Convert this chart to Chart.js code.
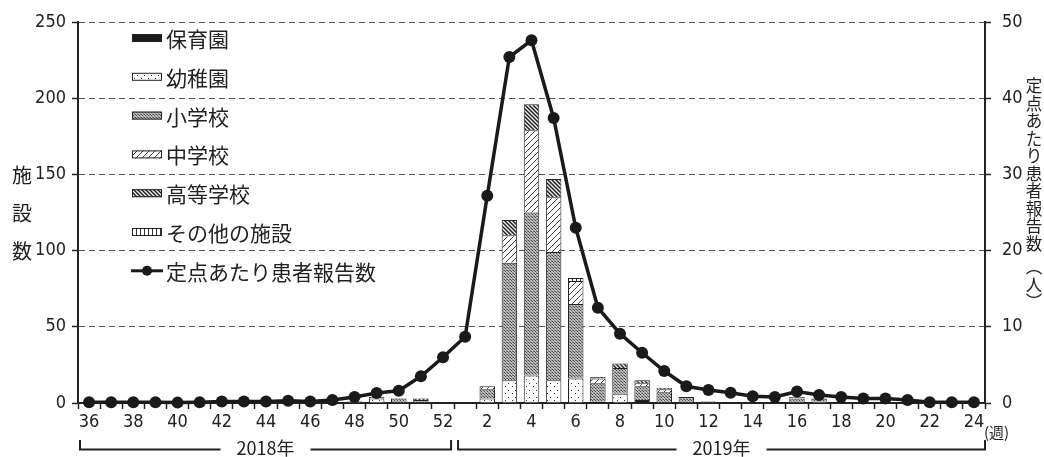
<!DOCTYPE html>
<html lang="ja">
<head>
<meta charset="utf-8">
<title>施設別インフルエンザ様疾患発生状況</title>
<script src="https://cdn.jsdelivr.net/npm/chart.js@4.4.1/dist/chart.umd.min.js"></script>
<style>
  html, body { margin: 0; padding: 0; background: #fff; }
  #wrap { width: 1044px; height: 457px; }
</style>
</head>
<body>
<div id="wrap"><canvas id="grafico" width="1044" height="457"></canvas></div>
<script>
// 週（2018年36週〜2019年24週）
const weeks = ['36','37','38','39','40','41','42','43','44','45','46','47','48','49','50','51','52',
               '1','2','3','4','5','6','7','8','9','10','11','12','13','14','15','16','17','18','19','20','21','22','23','24'];

// 施設数（左軸）
const hoikuen = [0,0,0,0,0,0,0,0,0,0,0,0,0,0,0,0,0,
                 0,0,0,0,0,0,1,0,2,0,0,0,0,0,0,0,0,0,0,0,0,0,0,0];
const youchien = [0,0,0,0,0,0,0,0,0,0,0,0,0,3,0,0,0,
                  0,3,15,18,15,16,0,6,0,0,0,0,0,0,0,0,1,0,0,0,0,0,0,0];
const shougakkou = [0,0,0,0,0,0,0,0,0,0,0,0,1,0,3,2,0,
                    0,6,77,107,84,49,12,17,9,7,4,1,0,0,0,3,2,0,0,0,0,0,0,0];
const chuugakkou = [0,0,0,0,0,0,0,0,0,0,0,0,0,1,0,0,0,
                    0,2,18,54,36,15,3,0,2,2,0,0,0,0,0,1,0,0,0,0,0,0,0,0];
const koutougakkou = [0,0,0,0,0,0,0,0,0,0,0,0,0,0,0,1,0,
                      0,0,10,17,12,0,1,3,2,1,0,0,0,0,0,0,0,0,0,0,0,0,0,0];
const sonota = [0,0,0,0,0,0,0,0,0,0,0,0,0,0,0,0,0,
                0,0,0,0,0,2,0,0,0,0,0,0,0,0,0,0,0,0,0,0,0,0,0,0];

// 定点あたり患者報告数（右軸）
const teiten = [0.1,0.1,0.1,0.1,0.05,0.1,0.2,0.2,0.2,0.3,0.2,0.4,0.8,1.3,1.6,3.5,6.0,
                8.7,27.2,45.4,47.6,37.4,23.0,12.5,9.1,6.6,4.2,2.2,1.7,1.35,0.9,0.8,1.5,1.05,0.8,0.6,0.6,0.4,0.1,0.1,0.1];

const yTicksLeft = [0, 50, 100, 150, 200, 250];
const yTicksRight = [0, 10, 20, 30, 40, 50];

const NUM_FONT = "'Liberation Sans Narrow', 'DejaVu Sans Condensed', 'Noto Sans', sans-serif";
const JP_FONT = "'Noto Sans CJK JP', 'Noto Sans', sans-serif";
const INK = '#222';

// パターン
function pattern(size, draw) {
    const c = document.createElement('canvas');
    c.width = size;
    c.height = size;
    const g = c.getContext('2d');
    draw(g, size);
    return g.createPattern(c, 'repeat');
}

const pDots = pattern(7, (g, s) => {
    g.fillStyle = '#fff'; g.fillRect(0, 0, s, s);
    g.fillStyle = '#333'; g.fillRect(1, 1, 1, 1); g.fillRect(4, 5, 1, 1);
});
const pGray = pattern(3, (g, s) => {
    g.fillStyle = '#bdbdbd'; g.fillRect(0, 0, s, s);
    g.fillStyle = '#4a4a4a'; g.fillRect(0, 0, 1, 1); g.fillRect(1, 1, 1, 1);
    g.fillStyle = '#8a8a8a'; g.fillRect(2, 2, 1, 1); g.fillRect(2, 0, 1, 1);
});
const pHatch = pattern(6, (g, s) => {
    g.fillStyle = '#fff'; g.fillRect(0, 0, s, s);
    g.strokeStyle = '#444'; g.lineWidth = 1;
    g.beginPath();
    g.moveTo(0, s); g.lineTo(s, 0);
    g.moveTo(-1, 1); g.lineTo(1, -1);
    g.moveTo(s - 1, s + 1); g.lineTo(s + 1, s - 1);
    g.stroke();
});
const pBack = pattern(4, (g, s) => {
    g.fillStyle = '#eee'; g.fillRect(0, 0, s, s);
    g.strokeStyle = '#222'; g.lineWidth = 1.5;
    g.beginPath();
    g.moveTo(0, 0); g.lineTo(s, s);
    g.moveTo(-1, s - 1); g.lineTo(1, s + 1);
    g.moveTo(s - 1, -1); g.lineTo(s + 1, 1);
    g.stroke();
});
const pVert = pattern(4, (g, s) => {
    g.fillStyle = '#fff'; g.fillRect(0, 0, s, s);
    g.fillStyle = '#333'; g.fillRect(0, 0, 1, s);
});

const series = [
    { label: '保育園', data: hoikuen, fill: '#1a1a1a' },
    { label: '幼稚園', data: youchien, fill: pDots },
    { label: '小学校', data: shougakkou, fill: pGray },
    { label: '中学校', data: chuugakkou, fill: pHatch },
    { label: '高等学校', data: koutougakkou, fill: pBack },
    { label: 'その他の施設', data: sonota, fill: pVert }
];
const lineLabel = '定点あたり患者報告数';

// 凡例・軸タイトル・年の括弧
const decor = {
    id: 'decor',
    afterDraw(chart) {
        const { ctx, chartArea: a, scales: { x } } = chart;
        ctx.save();

        // 凡例
        const step = 38.8;
        ctx.font = '21px ' + JP_FONT;
        ctx.textBaseline = 'middle';
        ctx.textAlign = 'left';
        series.forEach((s, i) => {
            const y = a.top + 16 + i * step;
            ctx.fillStyle = s.fill;
            ctx.fillRect(132, y - 4, 30, 8);
            ctx.strokeStyle = INK;
            ctx.lineWidth = 1;
            ctx.strokeRect(132.5, y - 3.5, 29, 7);
            ctx.fillStyle = INK;
            ctx.fillText(s.label, 166, y + 1);
        });
        const ly = a.top + 16 + series.length * step;
        ctx.strokeStyle = '#1a1a1a';
        ctx.lineWidth = 3;
        ctx.beginPath();
        ctx.moveTo(131, ly); ctx.lineTo(163, ly);
        ctx.stroke();
        ctx.fillStyle = '#1a1a1a';
        ctx.beginPath();
        ctx.arc(147, ly, 5, 0, Math.PI * 2);
        ctx.fill();
        ctx.fillStyle = INK;
        ctx.fillText(lineLabel, 166, ly + 1);

        // 左軸タイトル
        ctx.textAlign = 'center';
        ctx.font = '20px ' + JP_FONT;
        ['施', '設', '数'].forEach((ch, i) => ctx.fillText(ch, 22, 175 + i * 38));

        // 右軸タイトル
        ctx.font = '16.5px ' + JP_FONT;
        const rt = ['定', '点', 'あ', 'た', 'り', '患', '者', '報', '告', '数'];
        rt.forEach((ch, i) => ctx.fillText(ch, 1034, 86 + i * 17.5));
        ['\uFE35', '人', '\uFE36'].forEach((ch, i) => ctx.fillText(ch, 1034, 267 + i * 17.5));

        // (週)
        ctx.font = '15px ' + JP_FONT;
        ctx.textAlign = 'left';
        ctx.fillText('(週)', 984, 432);

        // 年の括弧
        const half = (x.getPixelForValue(1) - x.getPixelForValue(0)) / 2;
        const split = x.getPixelForValue(16) + half;
        const by = 449.5, bt = 440;
        const years = [
            { text: '2018年', x1: a.left + 2, x2: split - 3 },
            { text: '2019年', x1: split + 4, x2: a.right }
        ];
        ctx.strokeStyle = INK;
        ctx.lineWidth = 2;
        ctx.font = '18px ' + JP_FONT;
        years.forEach(yr => {
            const mid = (yr.x1 + yr.x2) / 2;
            const w = ctx.measureText(yr.text).width;
            ctx.beginPath();
            ctx.moveTo(yr.x1, bt); ctx.lineTo(yr.x1, by); ctx.lineTo(mid - w / 2 - 16, by);
            ctx.moveTo(mid + w / 2 + 16, by); ctx.lineTo(yr.x2, by); ctx.lineTo(yr.x2, bt);
            ctx.stroke();
            ctx.textAlign = 'center';
            ctx.fillText(yr.text, mid, by - 1);
        });

        ctx.restore();
    }
};

new Chart(document.getElementById('grafico'), {
    type: 'bar',
    data: {
        labels: weeks,
        datasets: [
            {
                type: 'line',
                label: lineLabel,
                data: teiten,
                yAxisID: 'y1',
                order: 0,
                borderColor: '#1a1a1a',
                backgroundColor: '#1a1a1a',
                borderWidth: 3.5,
                pointRadius: 6,
                pointBackgroundColor: '#1a1a1a',
                pointBorderWidth: 0,
                tension: 0,
                clip: false
            }
        ].concat(series.map(s => ({
            label: s.label,
            data: s.data,
            yAxisID: 'y',
            order: 1,
            backgroundColor: s.fill,
            borderColor: INK,
            borderWidth: 1,
            categoryPercentage: 1,
            barPercentage: 0.7
        })))
    },
    plugins: [decor],
    options: {
        responsive: false,
        animation: false,
        devicePixelRatio: 1,
        layout: { padding: { top: 22, left: 0, right: 0, bottom: 0 } },
        plugins: { legend: { display: false }, tooltip: { enabled: false } },
        scales: {
            x: {
                stacked: true,
                offset: true,
                afterFit: s => { s.height = 54; },
                grid: { offset: true, drawOnChartArea: false, drawTicks: true, tickLength: 6, tickColor: INK, tickWidth: 1.5 },
                border: { color: INK, width: 2 },
                ticks: {
                    autoSkip: false,
                    maxRotation: 0,
                    padding: 3,
                    color: INK,
                    font: { family: NUM_FONT, size: 18 },
                    callback: (v, i) => (Number(weeks[i]) % 2 === 0 ? weeks[i] : '')
                }
            },
            y: {
                stacked: true,
                position: 'left',
                min: yTicksLeft[0],
                max: yTicksLeft[yTicksLeft.length - 1],
                afterFit: s => { s.width = 78; },
                afterBuildTicks: s => { s.ticks = yTicksLeft.map(v => ({ value: v })); },
                grid: { color: '#555', lineWidth: 1, tickLength: 6, tickColor: INK, tickWidth: 1.5 },
                border: { color: INK, width: 2, dash: [6, 4] },
                ticks: { padding: 6, color: INK, font: { family: NUM_FONT, size: 18 } }
            },
            y1: {
                position: 'right',
                min: yTicksRight[0],
                max: yTicksRight[yTicksRight.length - 1],
                afterFit: s => { s.width = 59; },
                afterBuildTicks: s => { s.ticks = yTicksRight.map(v => ({ value: v })); },
                grid: { drawOnChartArea: false, tickLength: 6, tickColor: INK, tickWidth: 1.5 },
                border: { color: INK, width: 2 },
                ticks: { padding: 11, color: INK, font: { family: NUM_FONT, size: 18 } }
            }
        }
    }
});
</script>
</body>
</html>
